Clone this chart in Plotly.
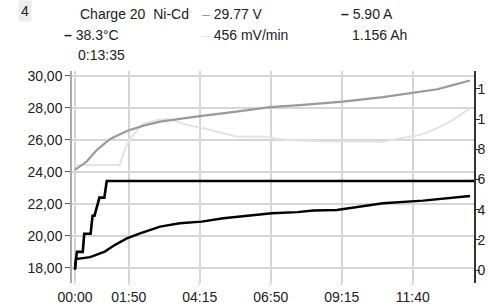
import plotly.graph_objects as go

# ---- data (time in seconds) ----
tick_seconds = [0, 110, 255, 400, 545, 690]
tick_labels = ["00:00", "01:50", "04:15", "06:50", "09:15", "11:40"]

left_ticks = [18, 20, 22, 24, 26, 28, 30]
left_tick_labels = ["18,00", "20,00", "22,00", "24,00", "26,00", "28,00", "30,00"]
right_ticks = [0, 2, 4, 6, 8, 10, 12]
right_tick_labels = ["0", "2", "4", "6", "8", "1", "1"]

# voltage (V) - medium gray
volt_t = [0, 24, 45, 72, 106, 140, 174, 208, 255, 330, 398, 466, 547, 629, 699, 740, 766, 807]
volt_v = [24.12, 24.64, 25.37, 26.05, 26.55, 26.88, 27.13, 27.28, 27.47, 27.76, 28.03, 28.17,
          28.38, 28.66, 28.94, 29.15, 29.36, 29.70]

# mV/min trace - light gray
dv_t = [0, 91, 109, 140, 174, 194, 228, 262, 330, 385, 433, 501, 629, 664, 705, 740, 772, 807]
dv_v = [24.43, 24.43, 25.93, 27.02, 27.27, 27.27, 26.93, 26.72, 26.20, 26.18, 25.99, 25.90,
        25.88, 26.10, 26.30, 26.72, 27.24, 27.96]

# temperature trace - black (left scale)
temp_t = [0, 2, 31, 61, 82, 106, 133, 174, 214, 259, 303, 351, 402, 454, 487, 535, 629, 711, 766, 807]
temp_v = [17.88, 18.56, 18.67, 19.02, 19.44, 19.84, 20.16, 20.58, 20.79, 20.89, 21.10, 21.25,
          21.41, 21.48, 21.58, 21.62, 22.04, 22.20, 22.39, 22.49]

# current (A) - black, right scale
cur_t = [0, 4, 16, 19, 32, 36, 40, 50, 60, 65, 815]
cur_a = [0.10, 1.20, 1.20, 2.40, 2.40, 3.60, 3.60, 4.80, 4.80, 5.90, 5.90]

FONT = "Liberation Sans, Arial, sans-serif"
TXT = "#222222"
GRID = "#d6d6d6"

fig = go.Figure()
fig.add_trace(go.Scatter(x=dv_t, y=dv_v, mode="lines", line=dict(color="#e4e4e4", width=2), yaxis="y"))
fig.add_trace(go.Scatter(x=volt_t, y=volt_v, mode="lines", line=dict(color="#9a9a9a", width=2.2), yaxis="y"))
fig.add_trace(go.Scatter(x=temp_t, y=temp_v, mode="lines", line=dict(color="#000000", width=2.4), yaxis="y"))
fig.add_trace(go.Scatter(x=cur_t, y=cur_a, mode="lines", line=dict(color="#000000", width=2.6), yaxis="y2"))

W, H = 488, 305
L, R, T, B = 72, 14, 71, 22
pw, ph = W - L - R, H - T - B


def px(x):  # screen x -> paper
    return (x - L) / pw


def py(y):  # screen y -> paper
    return (H - B - y) / ph


NB = "\u00a0"
anns = [
    dict(text="4", x=px(18), y=py(11.5), bgcolor="#ececec", borderpad=2),
    dict(text="Charge 20" + NB + NB + "Ni-Cd", x=px(78), y=py(14.5)),
    dict(text="<span style='color:#9a9a9a'>–</span>" + NB + "29.77 V", x=px(200), y=py(14.5)),
    dict(text="<b>–</b>" + NB + "5.90 A", x=px(339), y=py(14.5)),
    dict(text="<b>–</b>" + NB + "38.3°C", x=px(62), y=py(35.5)),
    dict(text="<span style='color:#e0e0e0'>–</span>" + NB + "456 mV/min", x=px(200), y=py(35.5)),
    dict(text="1.156 Ah", x=px(350), y=py(35.5)),
    dict(text="0:13:35", x=px(76), y=py(55)),
]
annotations = []
for a in anns:
    d = dict(xref="paper", yref="paper", xanchor="left", yanchor="middle", showarrow=False,
             font=dict(family=FONT, size=14, color=TXT))
    d.update(a)
    annotations.append(d)

fig.update_layout(
    width=W, height=H,
    margin=dict(l=L, r=R, t=T, b=B, pad=0, autoexpand=False),
    paper_bgcolor="white", plot_bgcolor="white",
    showlegend=False,
    font=dict(family=FONT, size=14, color=TXT),
    xaxis=dict(range=[-6, 815], tickvals=tick_seconds, ticktext=tick_labels,
               showgrid=True, gridcolor=GRID, gridwidth=1.5, zeroline=False,
               showline=False, ticks="outside", ticklen=1, tickcolor="#bbbbbb",
               automargin=False, ticklabeloverflow="allow",
               tickfont=dict(family=FONT, size=14, color=TXT)),
    yaxis=dict(range=[17.06, 30.29], tickvals=left_ticks, ticktext=left_tick_labels,
               showgrid=True, gridcolor=GRID, gridwidth=1.5, zeroline=False,
               showline=True, linecolor="#aaaaaa", linewidth=1.5,
               ticks="outside", ticklen=5, tickcolor="#555555", automargin=False,
               ticklabeloverflow="allow",
               tickfont=dict(family=FONT, size=14, color=TXT)),
    yaxis2=dict(range=[-0.86, 13.19], tickvals=right_ticks, ticktext=right_tick_labels,
                overlaying="y", side="right", showgrid=False, zeroline=False,
                showline=True, linecolor="#333333", linewidth=1.5,
                ticks="outside", ticklen=4, tickcolor="#333333", automargin=False,
                ticklabeloverflow="allow", ticklabelstandoff=-5,
                tickfont=dict(family=FONT, size=14, color=TXT)),
    annotations=annotations,
)

fig.write_html("out.html", config={"displayModeBar": False},
               post_script="document.body.style.margin='0';")
